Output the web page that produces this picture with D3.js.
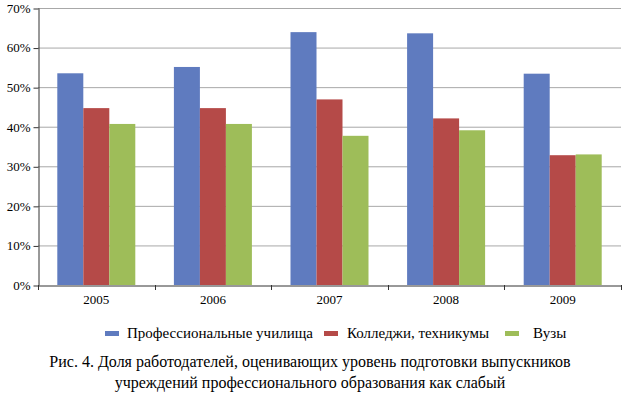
<!DOCTYPE html>
<html><head><meta charset="utf-8">
<script src="https://cdn.jsdelivr.net/npm/d3@7/dist/d3.min.js"></script>
</head><body>
<script>
const years = ["2005","2006","2007","2008","2009"];
const seriesNames = ["Профессиональные училища","Колледжи, техникумы","Вузы"];
const vocational = [53.5, 55.1, 63.9, 63.6, 53.4];
const colleges = [44.7, 44.7, 46.9, 42.1, 32.8];
const universities = [40.7, 40.7, 37.7, 39.1, 33.0];
const yTicks = [0,10,20,30,40,50,60,70];
const colors = ["#5f7bbf","#b54a48","#9ebd59"];
const caption = ["Рис. 4. Доля работодателей, оценивающих уровень подготовки выпускников",
                 "учреждений профессионального образования как слабый"];

const series = [vocational, colleges, universities];
const W=623,H=393;
const FONT='"Liberation Serif", monospace';
d3.select("body").style("margin","0px").style("background","#fff");
const svg=d3.select("body").append("svg").attr("width",W).attr("height",H)
  .style("display","block").style("font-family",FONT);
const x0=d3.scaleBand().domain(years).range([38,621]).paddingInner(0).paddingOuter(0);
const y=d3.scaleLinear().domain([0,70]).range([285,8]);

// gridlines
svg.append("g").selectAll("line").data(yTicks.slice(1)).join("line")
  .attr("x1",38).attr("x2",621).attr("y1",d=>y(d)+0.5).attr("y2",d=>y(d)+0.5)
  .attr("stroke","#a8a8a8").attr("stroke-width",1);

// bars
const bw=26;
const x1=d3.scaleBand().domain(d3.range(3)).range([0,bw*3]);
const g=svg.append("g");
years.forEach((yr,i)=>{
  const start=x0(yr)+(x0.bandwidth()-bw*3)/2;
  series.forEach((s,j)=>{
    g.append("rect").attr("x",start+x1(j)).attr("width",x1.bandwidth())
     .attr("y",y(s[i])).attr("height",y(0)-y(s[i])).attr("fill",colors[j]);
  });
});

// y axis
const ya=svg.append("g").attr("transform","translate(38.5,0)")
  .call(d3.axisLeft(y).tickValues(yTicks).tickFormat(d=>d+"%").tickSize(5).tickSizeOuter(0));
ya.attr("font-family",null).attr("font-size",null);
ya.select(".domain").attr("stroke","#333");
ya.selectAll(".tick line").attr("stroke","#333").attr("transform","translate(0,0.5)");
ya.selectAll("text").style("font-family",FONT).style("font-size","13px").attr("fill","#000").attr("x",-8).attr("dy","0.33em");

// x axis
const xa=svg.append("g").attr("transform","translate(0,285.5)")
  .call(d3.axisBottom(x0).tickSize(0).tickSizeOuter(0));
xa.attr("font-family",null).attr("font-size",null);
xa.select(".domain").attr("stroke","#333");
xa.selectAll("text").style("font-family",FONT).style("font-size","13px").attr("fill","#000").attr("y",18).attr("dy","0");
// boundary ticks
svg.append("g").selectAll("line").data(years.map(d=>x0(d)).concat([x0.range()[1]])).join("line")
  .attr("x1",d=>Math.round(d)+0.5).attr("x2",d=>Math.round(d)+0.5).attr("y1",285).attr("y2",290)
  .attr("stroke","#333");

// legend
const legX=[105,324,505];
const legTX=[127,347,533];
const leg=svg.append("g");
seriesNames.forEach((n,j)=>{
  leg.append("rect").attr("x",legX[j]).attr("y",331).attr("width",14).attr("height",5).attr("fill",colors[j]);
  leg.append("text").attr("x",legTX[j]).attr("y",338).style("font-family",FONT).style("font-size","15px").text(n);
});

// caption
svg.append("g").selectAll("text").data(caption).join("text")
  .attr("x",310).attr("y",(d,i)=>367+i*21).attr("text-anchor","middle")
  .style("font-family",FONT).style("font-size","16px").text(d=>d);
</script>
</body></html>
